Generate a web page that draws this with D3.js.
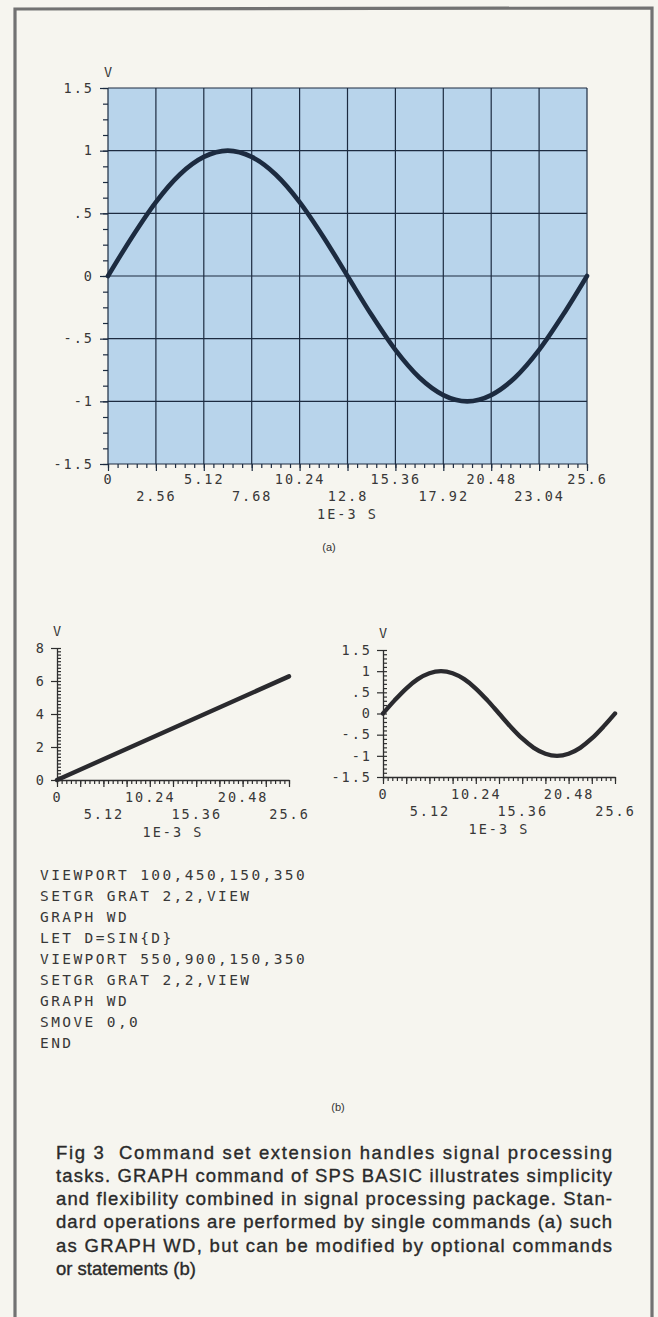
<!DOCTYPE html>
<html>
<head>
<meta charset="utf-8">
<script src="https://cdn.jsdelivr.net/npm/d3@7"></script>
<style>
  body { margin: 0; background: #f6f5ef; }
  svg { display: block; }
  .plotter text { font-family: "DejaVu Sans Mono", monospace; fill: #383838; }
  .caption text { font-family: "Liberation Sans", Arial, sans-serif; fill: #2a2a2a; }
</style>
</head>
<body>
<svg id="fig" width="658" height="1317"></svg>
<script>
// Waveform WD: one period, time in ms, amplitude in volts
const wdTime = [0, 1.28, 2.56, 3.84, 5.12, 6.4, 7.68, 8.96, 10.24, 11.52, 12.8,
                14.08, 15.36, 16.64, 17.92, 19.2, 20.48, 21.76, 23.04, 24.32, 25.6];
const wdVolts = [0, 0.31, 0.59, 0.81, 0.95, 1.0, 0.95, 0.81, 0.59, 0.31, 0,
                 -0.31, -0.59, -0.81, -0.95, -1.0, -0.95, -0.81, -0.59, -0.31, 0];

// Phase ramp D before LET D=SIN(D)
const rampTime = [0, 25.6];
const rampValues = [0, 6.28];

// Axis ticks and labels
const timeTicksA = [0, 5.12, 10.24, 15.36, 20.48, 25.6];
const timeLabelsA = ["0", "5.12", "10.24", "15.36", "20.48", "25.6"];
const timeTicksB = [2.56, 7.68, 12.8, 17.92, 23.04];
const timeLabelsB = ["2.56", "7.68", "12.8", "17.92", "23.04"];
const smallTimeTicksA = [0, 10.24, 20.48];
const smallTimeLabelsA = ["0", "10.24", "20.48"];
const smallTimeTicksB = [5.12, 15.36, 25.6];
const smallTimeLabelsB = ["5.12", "15.36", "25.6"];
const voltTicks = [-1.5, -1, -0.5, 0, 0.5, 1, 1.5];
const voltLabels = ["-1.5", "-1", "-.5", "0", ".5", "1", "1.5"];
const rampTicks = [0, 2, 4, 6, 8];
const rampLabels = ["0", "2", "4", "6", "8"];
const timeUnit = "1E-3 S";
const voltUnit = "V";

const programLines = [
  "VIEWPORT 100,450,150,350",
  "SETGR GRAT 2,2,VIEW",
  "GRAPH WD",
  "LET D=SIN{D}",
  "VIEWPORT 550,900,150,350",
  "SETGR GRAT 2,2,VIEW",
  "GRAPH WD",
  "SMOVE 0,0",
  "END"
];

const captionLines = [
  "Fig 3  Command set extension handles signal processing",
  "tasks. GRAPH command of SPS BASIC illustrates simplicity",
  "and flexibility combined in signal processing package. Stan-",
  "dard operations are performed by single commands (a) such",
  "as GRAPH WD, but can be modified by optional commands",
  "or statements (b)"
];

const ink = "#1c2b40";
const plotInk = "#3a3a3a";
const svg = d3.select("#fig");

svg.append("rect").attr("width", 658).attr("height", 1317).attr("fill", "#f6f5ef");

// Page frame, open at the bottom
svg.append("path")
  .attr("d", d3.line()([[15, 1317], [15, 9], [652, 8], [652, 1317]]))
  .attr("fill", "none").attr("stroke", "#727272").attr("stroke-width", 3.2);

const labelFromList = (ticks, labels) => v => labels[ticks.indexOf(v)];

function styleAxis(g, color) {
  g.selectAll("line").attr("stroke", color).attr("stroke-width", 1.2);
  g.selectAll("path.domain").attr("stroke", color).attr("stroke-width", 1.3);
  g.selectAll("text").attr("fill", plotInk).attr("font-size", 13.5)
    .attr("letter-spacing", 2);
}

// ---------- (a) full graph with graticule ----------
const mainG = svg.append("g").attr("class", "plotter");
const xA = d3.scaleLinear().domain([0, 25.6]).range([108, 587]);
const yA = d3.scaleLinear().domain([-1.5, 1.5]).range([464, 88]);

mainG.append("rect")
  .attr("x", xA(0)).attr("y", yA(1.5))
  .attr("width", xA(25.6) - xA(0)).attr("height", yA(-1.5) - yA(1.5))
  .attr("fill", "#b8d4eb");

const gridX = d3.range(0, 11).map(i => i * 2.56);
mainG.append("g").selectAll("line").data(gridX).join("line")
  .attr("x1", d => xA(d)).attr("x2", d => xA(d))
  .attr("y1", yA(1.5)).attr("y2", yA(-1.5))
  .attr("stroke", ink).attr("stroke-width", 1.2);
mainG.append("g").selectAll("line").data(voltTicks).join("line")
  .attr("x1", xA(0)).attr("x2", xA(25.6))
  .attr("y1", d => yA(d)).attr("y2", d => yA(d))
  .attr("stroke", ink).attr("stroke-width", 1.2);

// minor ticks
mainG.append("g").attr("transform", `translate(${xA(0)},0)`)
  .call(d3.axisLeft(yA).tickValues(d3.range(-1.5, 1.51, 0.125)).tickSize(5).tickFormat(""))
  .call(g => g.select(".domain").remove())
  .call(g => styleAxis(g, ink));
mainG.append("g").attr("transform", `translate(0,${yA(-1.5)})`)
  .call(d3.axisBottom(xA).tickValues(d3.range(0, 25.61, 0.512)).tickSize(4).tickFormat(""))
  .call(g => g.select(".domain").remove())
  .call(g => styleAxis(g, ink));

// major ticks with labels
mainG.append("g").attr("transform", `translate(${xA(0)},0)`)
  .call(d3.axisLeft(yA).tickValues(voltTicks).tickSize(8).tickPadding(6)
    .tickFormat(labelFromList(voltTicks, voltLabels)))
  .call(g => g.select(".domain").remove())
  .call(g => styleAxis(g, ink));
mainG.append("g").attr("transform", `translate(0,${yA(-1.5)})`)
  .call(d3.axisBottom(xA).tickValues(gridX).tickSize(7).tickFormat(""))
  .call(g => g.select(".domain").remove())
  .call(g => styleAxis(g, ink));
mainG.append("g").attr("transform", `translate(0,${yA(-1.5)})`)
  .call(d3.axisBottom(xA).tickValues(timeTicksA).tickSize(0).tickPadding(10)
    .tickFormat(labelFromList(timeTicksA, timeLabelsA)))
  .call(g => g.select(".domain").remove())
  .call(g => styleAxis(g, ink));
mainG.append("g").attr("transform", `translate(0,${yA(-1.5) + 17})`)
  .call(d3.axisBottom(xA).tickValues(timeTicksB).tickSize(0).tickPadding(10)
    .tickFormat(labelFromList(timeTicksB, timeLabelsB)))
  .call(g => g.select(".domain").remove())
  .call(g => styleAxis(g, ink));

mainG.append("text").attr("x", xA(12.8)).attr("y", yA(-1.5) + 55)
  .attr("text-anchor", "middle").attr("font-size", 13.5).attr("letter-spacing", 2)
  .attr("fill", plotInk).text(timeUnit);
mainG.append("text").attr("x", xA(0)).attr("y", yA(1.5) - 11)
  .attr("text-anchor", "middle").attr("font-size", 13.5).attr("fill", plotInk).text(voltUnit);

mainG.append("path").datum(wdTime.map((t, i) => [t, wdVolts[i]]))
  .attr("d", d3.line().curve(d3.curveMonotoneX).x(d => xA(d[0])).y(d => yA(d[1])))
  .attr("fill", "none").attr("stroke", ink).attr("stroke-width", 4.6)
  .attr("stroke-linejoin", "round").attr("stroke-linecap", "round");

svg.append("text").attr("x", 329).attr("y", 551)
  .attr("text-anchor", "middle").attr("font-family", "Liberation Sans, Arial, sans-serif")
  .attr("font-size", 11).attr("fill", "#333").text("(a)");

// ---------- (b) two viewports without graticule ----------
function smallGraph(x0, x1, yDomain, yTop, yBottom, yTicks, yLabels, yMinorStep, times, values, curve) {
  const g = svg.append("g").attr("class", "plotter");
  const x = d3.scaleLinear().domain([0, 25.6]).range([x0, x1]);
  const y = d3.scaleLinear().domain(yDomain).range([yBottom, yTop]);

  // minor ticks inside the axes
  g.append("g").attr("transform", `translate(${x0},0)`)
    .call(d3.axisRight(y).tickValues(d3.range(yDomain[0], yDomain[1] + 1e-6, yMinorStep)).tickSize(4).tickFormat(""))
    .call(a => a.select(".domain").remove())
    .call(a => styleAxis(a, "#2e2e2e"));
  g.append("g").attr("transform", `translate(0,${yBottom})`)
    .call(d3.axisBottom(x).tickValues(d3.range(0, 25.61, 0.512)).tickSize(4).tickFormat(""))
    .call(a => a.select(".domain").remove())
    .call(a => styleAxis(a, "#2e2e2e"));
  g.append("g").attr("transform", `translate(0,${yBottom})`)
    .call(d3.axisBottom(x).tickValues(d3.range(0, 25.61, 2.56)).tickSize(7).tickFormat(""))
    .call(a => a.select(".domain").remove())
    .call(a => styleAxis(a, "#2e2e2e"));

  // axis lines with labelled ticks
  g.append("g").attr("transform", `translate(${x0},0)`)
    .call(d3.axisLeft(y).tickValues(yTicks).tickSize(6).tickSizeOuter(0).tickPadding(5)
      .tickFormat(labelFromList(yTicks, yLabels)))
    .call(a => styleAxis(a, "#2e2e2e"));
  g.append("g").attr("transform", `translate(0,${yBottom})`)
    .call(d3.axisBottom(x).tickValues(smallTimeTicksA).tickSize(0).tickSizeOuter(0).tickPadding(12)
      .tickFormat(labelFromList(smallTimeTicksA, smallTimeLabelsA)))
    .call(a => styleAxis(a, "#2e2e2e"));
  g.append("g").attr("transform", `translate(0,${yBottom + 17})`)
    .call(d3.axisBottom(x).tickValues(smallTimeTicksB).tickSize(0).tickPadding(12)
      .tickFormat(labelFromList(smallTimeTicksB, smallTimeLabelsB)))
    .call(a => a.select(".domain").remove())
    .call(a => styleAxis(a, "#2e2e2e"));

  g.append("text").attr("x", x(12.8)).attr("y", yBottom + 57)
    .attr("text-anchor", "middle").attr("font-size", 13.5).attr("letter-spacing", 2)
    .attr("fill", plotInk).text(timeUnit);
  g.append("text").attr("x", x0).attr("y", yTop - 12)
    .attr("text-anchor", "middle").attr("font-size", 13.5).attr("fill", plotInk).text(voltUnit);

  g.append("path").datum(times.map((t, i) => [t, values[i]]))
    .attr("d", d3.line().curve(curve).x(d => x(d[0])).y(d => y(d[1])))
    .attr("fill", "none").attr("stroke", "#2a2a2e").attr("stroke-width", 4.4)
    .attr("stroke-linejoin", "round").attr("stroke-linecap", "round");
}

smallGraph(57, 289, [0, 8], 648, 780, rampTicks, rampLabels, 0.2, rampTime, rampValues, d3.curveLinear);
smallGraph(383, 615, [-1.5, 1.5], 650, 777, voltTicks, voltLabels, 0.1, wdTime, wdVolts, d3.curveMonotoneX);

// Program listing
const listing = svg.append("g").attr("class", "plotter");
listing.selectAll("text").data(programLines).join("text")
  .attr("x", 40).attr("y", (d, i) => 880 + i * 21)
  .attr("font-size", 14.5).attr("letter-spacing", 2.4)
  .text(d => d);

svg.append("text").attr("x", 338).attr("y", 1111)
  .attr("text-anchor", "middle").attr("font-family", "Liberation Sans, Arial, sans-serif")
  .attr("font-size", 11).attr("fill", "#333").text("(b)");

// Caption, justified to the column
const cap = svg.append("g").attr("class", "caption");
const capLeft = 56, capRight = 612;
cap.selectAll("text").data(captionLines).join("text")
  .attr("x", capLeft).attr("y", (d, i) => 1158.5 + i * 23.3)
  .attr("font-size", 18.5)
  .attr("stroke", "#2a2a2a").attr("stroke-width", 0.35)
  .attr("xml:space", "preserve")
  .text(d => d)
  .each(function (d, i) {
    if (i < captionLines.length - 1) {
      d3.select(this).attr("textLength", capRight - capLeft).attr("lengthAdjust", "spacing");
    }
  });
</script>
</body>
</html>
